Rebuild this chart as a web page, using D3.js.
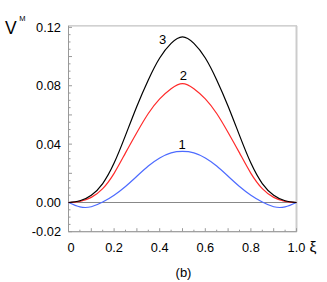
<!DOCTYPE html>
<html><head><meta charset="utf-8">
<script src="https://cdn.jsdelivr.net/npm/d3@7"></script>
<style>body{margin:0;background:#fff}svg{display:block}text{font-family:"Liberation Sans",Arial,sans-serif}</style>
</head><body>
<script>
const xi     = [0,0.05,0.10,0.15,0.20,0.25,0.30,0.35,0.40,0.45,0.50,0.55,0.60,0.65,0.70,0.75,0.80,0.85,0.90,0.95,1.0];
const curve1 = [0,-0.0030,-0.0029,0.0003,0.0050,0.0110,0.0180,0.0250,0.0305,0.0340,0.0350,0.0340,0.0305,0.0250,0.0180,0.0110,0.0050,0.0003,-0.0029,-0.0030,0];
const curve2 = [0,0.0008,0.0035,0.0095,0.0200,0.0340,0.0480,0.0610,0.0710,0.0780,0.0815,0.0780,0.0710,0.0610,0.0480,0.0340,0.0200,0.0095,0.0035,0.0008,0];
const curve3 = [0,0.0012,0.0050,0.0130,0.0270,0.0460,0.0660,0.0840,0.0990,0.1090,0.1135,0.1090,0.0990,0.0840,0.0660,0.0460,0.0270,0.0130,0.0050,0.0012,0];
const seriesLabels = ["1","2","3"];
const xTickLabels = ["0","0.2","0.4","0.6","0.8","1.0"];
const xTickValues = [0,0.2,0.4,0.6,0.8,1.0];
const yTickLabels = ["-0.02","0.00","0.04","0.08","0.12"];
const yTickValues = [-0.02,0,0.04,0.08,0.12];

const W=327,H=282;
const svg=d3.select("body").append("svg").attr("width",W).attr("height",H);
const x=d3.scaleLinear().domain([0,1]).range([68.5,296.5]);
const y=d3.scaleLinear().domain([-0.02,0.121]).range([231.7,25.9]);

// frame
svg.append("rect").attr("x",x(0)).attr("y",y(0.121)).attr("width",x(1)-x(0)).attr("height",y(-0.02)-y(0.121))
  .attr("fill","none").attr("stroke","#b4b4b4").attr("stroke-width",1);
svg.append("line").attr("x1",x(1)).attr("x2",x(1)).attr("y1",y(0.121)).attr("y2",y(-0.02)).attr("stroke","#cccccc").attr("stroke-width",2);
svg.append("line").attr("x1",x(0)).attr("x2",x(0)).attr("y1",y(0.121)).attr("y2",y(-0.02)).attr("stroke","#999").attr("stroke-width",1);
svg.append("line").attr("x1",x(0)).attr("x2",x(1)).attr("y1",y(-0.02)).attr("y2",y(-0.02)).attr("stroke","#999").attr("stroke-width",1);
// zero line
svg.append("line").attr("x1",x(0)).attr("x2",x(1)).attr("y1",y(0)).attr("y2",y(0)).attr("stroke","#888").attr("stroke-width",1);

// y ticks
const yMinor=d3.range(-0.02,0.1201,0.005);
svg.append("g").selectAll("line").data(yMinor).join("line")
  .attr("x1",x(0)).attr("x2",(d,i)=>x(0)+(i%4===0?3.5:2)).attr("y1",d=>y(d)).attr("y2",d=>y(d))
  .attr("stroke","#999").attr("stroke-width",1);
svg.append("g").selectAll("text").data(yTickValues).join("text")
  .attr("x",61).attr("y",d=>y(d)).attr("dy","0.36em").attr("text-anchor","end")
  .attr("font-size",12.8).attr("fill","#000").text((d,i)=>yTickLabels[i]);

// x ticks
const xMinor=d3.range(0,1.0001,0.05);
svg.append("g").selectAll("line").data(xMinor).join("line")
  .attr("x1",d=>x(d)).attr("x2",d=>x(d)).attr("y1",y(-0.02)).attr("y2",(d,i)=>y(-0.02)-(i%2===0?3.5:2))
  .attr("stroke","#999").attr("stroke-width",1);
svg.append("g").selectAll("text").data(xTickValues).join("text")
  .attr("x",d=>x(d)+(d===0?2.5:0)).attr("y",251.7).attr("text-anchor","middle")
  .attr("font-size",12.8).attr("fill","#000").text((d,i)=>xTickLabels[i]);

// axis titles
const vt=svg.append("text").attr("x",5).attr("y",33.5).attr("font-size",17.5).attr("fill","#000");
vt.append("tspan").text("V");
vt.append("tspan").attr("font-size",7.5).attr("dx",2.5).attr("dy",-12.5).text("M");
svg.append("text").attr("x",309.5).attr("y",251.7).attr("font-size",15.5).attr("fill","#000").text("ξ");
svg.append("text").attr("x",183.5).attr("y",277).attr("text-anchor","middle").attr("font-size",13).attr("fill","#000").text("(b)");

// curves
const line=d3.line().x(d=>x(d[0])).y(d=>y(d[1])).curve(d3.curveNatural);
const series=[{v:curve1,c:"#4d6bff"},{v:curve2,c:"#ff2a2a"},{v:curve3,c:"#000"}];
series.forEach(s=>{
  svg.append("path").datum(xi.map((d,i)=>[d,s.v[i]])).attr("d",line)
    .attr("fill","none").attr("stroke",s.c).attr("stroke-width",1.2);
});
// curve labels
const labelPos=[[182,149],[183.3,80],[162.7,44]];
seriesLabels.forEach((t,i)=>{
  svg.append("text").attr("x",labelPos[i][0]).attr("y",labelPos[i][1]).attr("text-anchor","middle")
    .attr("font-size",13).attr("fill","#000").text(t);
});
</script>
</body></html>
